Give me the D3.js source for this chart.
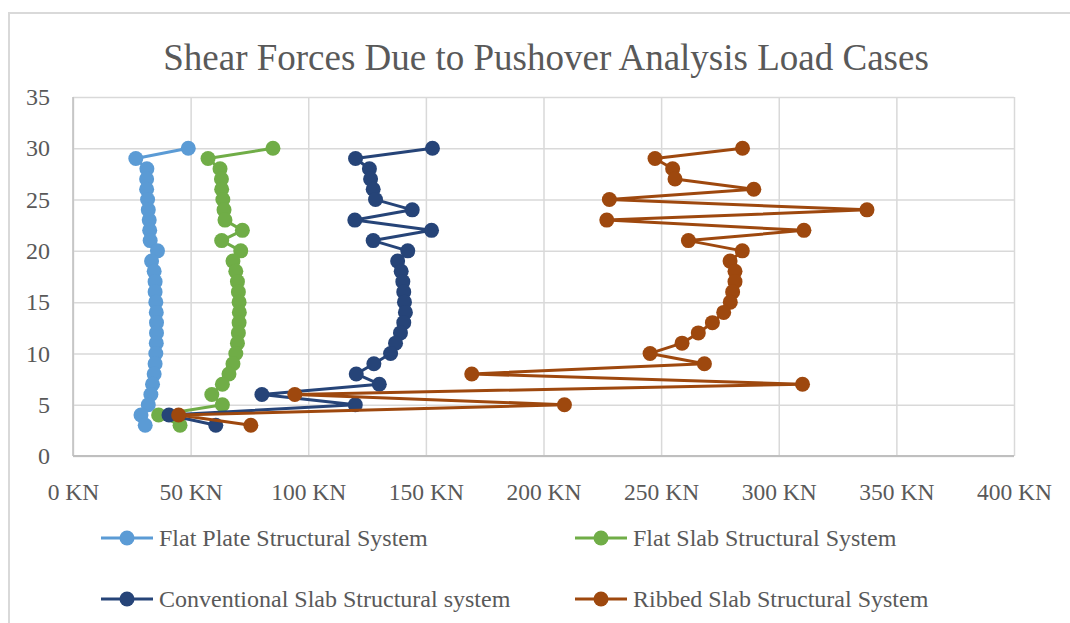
<!DOCTYPE html>
<html>
<head>
<meta charset="utf-8">
<script src="https://cdn.jsdelivr.net/npm/d3@7"></script>
<style>
  html, body { margin: 0; padding: 0; background: #ffffff; }
  svg { display: block; }
  text { font-family: "Liberation Serif", "Times New Roman", serif; fill: #595959; }
</style>
</head>
<body>
<svg id="chart" width="1070" height="623"></svg>
<script>
// Storey levels (top to bottom) and shear force per structural system, in KN
const floors = [30, 29, 28, 27, 26, 25, 24, 23, 22, 21, 20, 19, 18, 17, 16, 15, 14, 13, 12, 11, 10, 9, 8, 7, 6, 5, 4, 3];

const flatPlate = [49, 26.7, 31.4, 31.3, 31.3, 31.7, 32, 32.4, 32.6, 32.8, 35.9, 33.4, 34.5, 34.9,
  34.9, 35.2, 35.4, 35.5, 35.5, 35.4, 35.2, 34.9, 34.5, 33.8, 33.1, 32, 28.9, 30.7];

const flatSlab = [85, 57.4, 62.5, 63.1, 63.2, 63.7, 64.2, 64.6, 72, 63.2, 71.3, 68, 69.2, 69.9,
  70.3, 70.6, 70.7, 70.6, 70.3, 69.9, 69.2, 68, 66.3, 63.5, 59, 63.5, 36.4, 45.5];

const conventional = [152.8, 120.1, 126, 126.5, 127.6, 128.6, 144.2, 119.8, 152.4, 127.6, 142.3, 138, 139.5, 140.2,
  140.6, 140.9, 141.3, 140.6, 139.2, 137.1, 135, 127.9, 120.4, 130.2, 80.3, 120, 40.8, 60.7];

const ribbed = [284.6, 247.4, 254.9, 255.9, 289.4, 228, 337.5, 226.9, 310.7, 261.6, 284.5, 279.3, 281.4, 281.4,
  280.4, 279.4, 276.6, 271.8, 265.8, 258.9, 245.3, 268.4, 169.5, 310.1, 94.3, 208.9, 44.9, 75.6];

const seriesNames = ["Flat Plate Structural System", "Flat Slab Structural System",
  "Conventional Slab Structural system", "Ribbed Slab Structural System"];
const seriesColors = ["#5B9BD5", "#70AD47", "#264478", "#9E480E"];
const seriesValues = [flatPlate, flatSlab, conventional, ribbed];

const xTicks = [0, 50, 100, 150, 200, 250, 300, 350, 400];
const yTicks = [0, 5, 10, 15, 20, 25, 30, 35];
const chartTitle = "Shear Forces Due to Pushover Analysis Load Cases";

const svg = d3.select("#chart");

// outer chart frame
svg.append("rect")
  .attr("x", 9).attr("y", 13).attr("width", 1100).attr("height", 700)
  .attr("fill", "#ffffff").attr("stroke", "#d9d9d9").attr("stroke-width", 2);

const plot = { left: 73, right: 1014, top: 97, bottom: 456 };

const x = d3.scaleLinear().domain([0, 400]).range([plot.left, plot.right]);
const y = d3.scaleLinear().domain([0, 35]).range([plot.bottom, plot.top]);

// title
svg.append("text")
  .attr("x", 546).attr("y", 70)
  .attr("text-anchor", "middle")
  .style("font-size", "37px")
  .text(chartTitle);

// vertical gridlines with x labels
const xAxis = d3.axisBottom(x).tickValues(xTicks).tickSize(-(plot.bottom - plot.top))
  .tickFormat(d => d + " KN").tickPadding(27);
const gx = svg.append("g").attr("transform", `translate(0,${plot.bottom})`).call(xAxis);
gx.select(".domain").remove();
gx.selectAll("line").attr("stroke", "#d9d9d9").attr("stroke-width", 1.5);
gx.selectAll("text").style("font-size", "23.5px").attr("fill", "#595959")
  .attr("font-family", "Liberation Serif");

// horizontal gridlines with y labels
const yAxis = d3.axisLeft(y).tickValues(yTicks).tickSize(-(plot.right - plot.left)).tickPadding(23);
const gy = svg.append("g").attr("transform", `translate(${plot.left},0)`).call(yAxis);
gy.select(".domain").remove();
gy.selectAll("line").attr("stroke", "#d9d9d9").attr("stroke-width", 1.5);
gy.selectAll("text").style("font-size", "24px").attr("fill", "#595959")
  .attr("font-family", "Liberation Serif");

// axis lines
svg.append("line")
  .attr("x1", plot.left).attr("x2", plot.left).attr("y1", plot.top).attr("y2", plot.bottom)
  .attr("stroke", "#bfbfbf").attr("stroke-width", 1.5);
svg.append("line")
  .attr("x1", plot.left).attr("x2", plot.right).attr("y1", plot.bottom).attr("y2", plot.bottom)
  .attr("stroke", "#bfbfbf").attr("stroke-width", 2);

// series lines and markers
const line = d3.line().x(d => x(d.v)).y(d => y(d.f));
seriesValues.forEach((vals, i) => {
  const pts = floors.map((f, k) => ({ f, v: vals[k] }));
  const g = svg.append("g");
  g.append("path").datum(pts)
    .attr("d", line)
    .attr("fill", "none")
    .attr("stroke", seriesColors[i])
    .attr("stroke-width", 3)
    .attr("stroke-linejoin", "round");
  g.selectAll("circle").data(pts).enter().append("circle")
    .attr("cx", d => x(d.v)).attr("cy", d => y(d.f)).attr("r", 7.5)
    .attr("fill", seriesColors[i]);
});

// legend (two columns, two rows)
const legendPos = [[101, 538], [575, 538], [101, 599], [575, 599]];
seriesNames.forEach((name, i) => {
  const [lx, ly] = legendPos[i];
  const g = svg.append("g").attr("transform", `translate(${lx},${ly})`);
  g.append("line").attr("x1", 0).attr("x2", 52).attr("y1", 0).attr("y2", 0)
    .attr("stroke", seriesColors[i]).attr("stroke-width", 3);
  g.append("circle").attr("cx", 26).attr("cy", 0).attr("r", 7.5).attr("fill", seriesColors[i]);
  g.append("text").attr("x", 58).attr("y", 0).attr("dy", "0.35em")
    .style("font-size", "24px").text(name);
});
</script>
</body>
</html>
